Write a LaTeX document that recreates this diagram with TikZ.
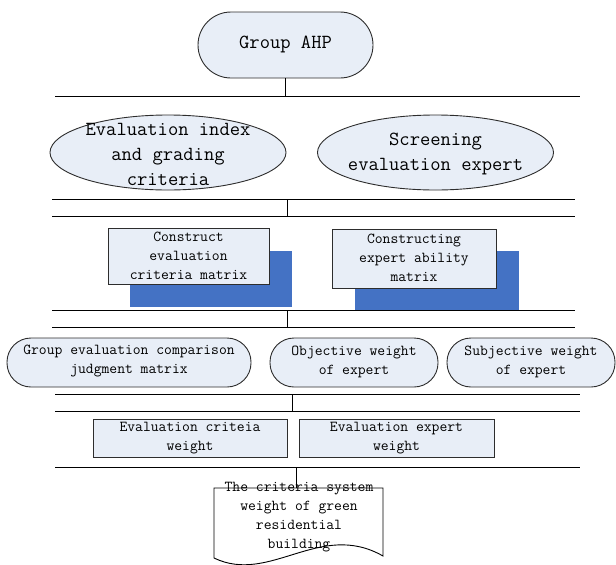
\documentclass[tikz,border=0pt]{standalone}
\usepackage{fontspec}
\usepackage{tikz}
\usetikzlibrary{shapes.geometric}
\usetikzlibrary{positioning}

\definecolor{paleblue}{RGB}{232,238,247}
\definecolor{shadeblue}{RGB}{68,114,196}
\definecolor{edgegray}{RGB}{45,45,45}

\newcommand{\bigtt}{\fontsize{20}{25}\selectfont\ttfamily}
\newcommand{\midtt}{\fontsize{15.2}{19}\selectfont\ttfamily}

\begin{document}
\begin{tikzpicture}[x=1pt,y=-1pt,every node/.style={align=center,inner sep=0pt}]
\tikzstyle{pill} = [draw=edgegray, fill=paleblue, line width=0.9pt]
\tikzstyle{oval} = [ellipse, draw=edgegray, fill=paleblue, line width=0.9pt, minimum width=236pt, minimum height=75pt]
\tikzstyle{card} = [draw=edgegray, fill=paleblue, line width=0.9pt]
\tikzstyle{shade} = [draw=none, fill=shadeblue]
\tikzstyle{bus} = [line width=0.8pt]
\useasboundingbox (0,0) rectangle (616,565);

% top
\node[pill, minimum width=175pt, minimum height=66pt, rounded corners=33pt] (ahp) at (285.5,45) {};
\node[font=\bigtt] at (285.5,44) {Group AHP};

\coordinate (busAL) at (55,96);  \coordinate (busAR) at (580,96);
\draw[bus] (busAL) -- (busAR);
\draw[bus] (ahp.south) -- (ahp.south |- busAL);

% ellipses
\node[oval] (evalidx) at (168,152.5) {};
\node[font=\bigtt] at (168,154) {Evaluation index\\and grading\\criteria};
\node[oval] (screen) at (435.5,152.5) {};
\node[font=\bigtt] at (435.5,154) {Screening\\evaluation expert};

\coordinate (busBL) at (52,199);  \coordinate (busBR) at (575,199);
\coordinate (busCL) at (52,216);  \coordinate (busCR) at (575,216);
\coordinate (tapB) at (287,199);
\draw[bus] (busBL) -- (busBR);
\draw[bus] (busCL) -- (busCR);
\draw[bus] (tapB) -- (tapB |- busCL);

% matrices
\node[shade, minimum width=162pt, minimum height=56pt] (critshade) at (211,279) {};
\node[card, minimum width=161pt, minimum height=56pt] (critbox) at (188.5,256) {};
\node[font=\midtt] at (188.5,255.5) {Construct\\evaluation\\criteria matrix};
\node[shade, minimum width=164pt, minimum height=59pt] (abilshade) at (437,280) {};
\node[card, minimum width=164pt, minimum height=59pt] (abilbox) at (414,258.5) {};
\node[font=\midtt] at (414,257.5) {Constructing\\expert ability\\matrix};

\coordinate (busDL) at (52,310);  \coordinate (busDR) at (575,310);
\coordinate (busEL) at (52,327);  \coordinate (busER) at (575,327);
\coordinate (tapD) at (287,310);
\draw[bus] (busDL) -- (busDR);
\draw[bus] (busEL) -- (busER);
\draw[bus] (tapD) -- (tapD |- busEL);

% judgment and expert weights
\node[pill, minimum width=244pt, minimum height=49pt, rounded corners=24pt] (judge) at (129,362.5) {};
\node[font=\midtt] at (129,361.5) {Group evaluation comparison\\judgment matrix};
\node[pill, minimum width=168pt, minimum height=49pt, rounded corners=24pt] (objw) at (354,362.5) {};
\node[font=\midtt] at (354,361.5) {Objective weight\\of expert};
\node[pill, minimum width=168pt, minimum height=49pt, rounded corners=24pt] (subjw) at (531,362.5) {};
\node[font=\midtt] at (531,361.5) {Subjective weight\\of expert};

\coordinate (busFL) at (55,394);  \coordinate (busFR) at (580,394);
\coordinate (busGL) at (55,411);  \coordinate (busGR) at (580,411);
\coordinate (tapF) at (292,394);
\draw[bus] (busFL) -- (busFR);
\draw[bus] (busGL) -- (busGR);
\draw[bus] (tapF) -- (tapF |- busGL);

% weights
\node[card, minimum width=194pt, minimum height=38pt] (critw) at (190,438) {};
\node[font=\midtt] at (190,438) {Evaluation criteia\\weight};
\node[card, minimum width=195pt, minimum height=38pt] (expw) at (396.5,438) {};
\node[font=\midtt] at (396.5,438) {Evaluation expert\\weight};

\coordinate (busHL) at (55,467.5);  \coordinate (busHR) at (580,467.5);
\draw[line width=1.8pt] (busHL) -- (busHR);

% result document
\draw[line width=0.9pt, fill=white] (214,488) -- (383,488) -- (383,556)
  .. controls (320,520) and (270,585) .. (214,558) -- cycle;
\coordinate (doctop) at (296,488);
\node[font=\midtt] (result) at (299,517) {The criteria system\\weight of green\\residential\\building};
\draw[bus] (doctop) -- (doctop |- busHL);
\end{tikzpicture}
\end{document}
